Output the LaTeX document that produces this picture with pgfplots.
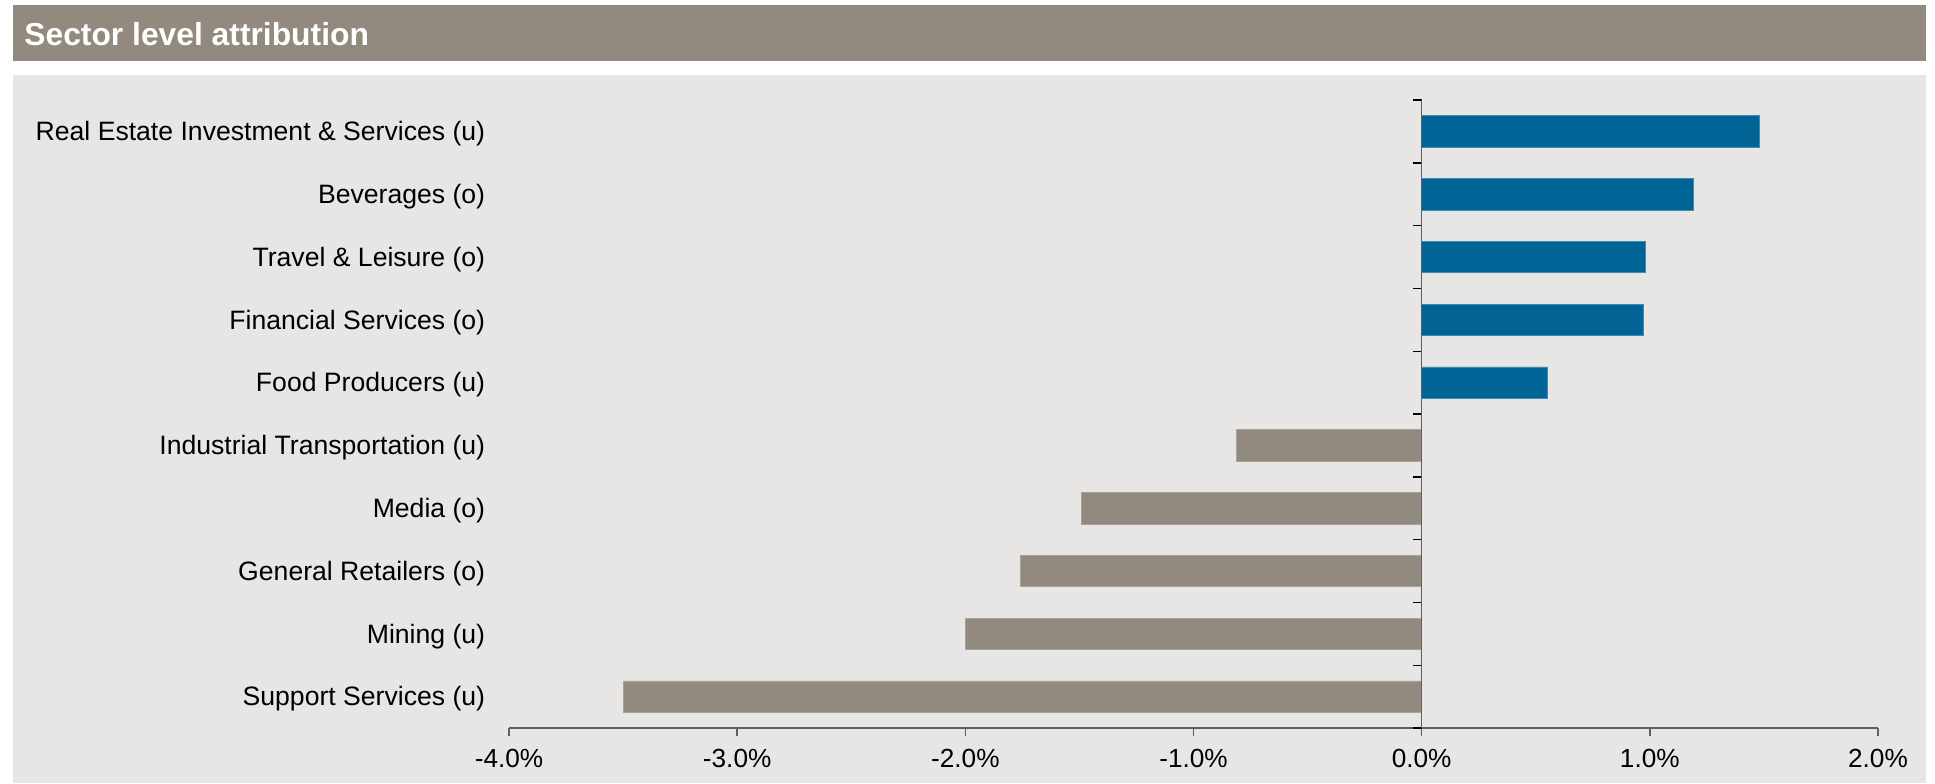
\documentclass[border=0pt]{standalone}
\usepackage{fontspec}
\setmainfont{Liberation Sans}
\usepackage{pgfplots}
\pgfplotsset{compat=1.18}
\definecolor{hdr}{RGB}{146,138,126}
\definecolor{panel}{RGB}{231,230,228}
\definecolor{barblue}{RGB}{0,100,150}
\definecolor{bargray}{RGB}{146,138,126}
\definecolor{axgray}{RGB}{95,95,95}
\begin{document}
\begin{tikzpicture}
\fill[white] (0,0) rectangle (967.5pt,391.5pt);
\fill[hdr] (6.5pt,361pt) rectangle (963pt,389pt);
\fill[panel] (6.5pt,0pt) rectangle (963pt,354pt);
\node[anchor=base west, inner sep=0pt, text=white, font=\fontsize{15.9}{18}\selectfont\bfseries] at (12pt,368.8pt) {Sector level attribution};
\begin{axis}[
  at={(254.5pt,27.5pt)}, anchor=south west, scale only axis,
  width=684.5pt, height=314pt,
  xmin=-4, xmax=2, ymin=-0.5, ymax=9.5,
  axis x line*=bottom, axis y line*=left,
  y axis line style={draw=none},
  x axis line style={color=axgray, line width=0.7pt},
  xtick={-4,-3,-2,-1,0,1,2},
  xticklabels={-4.0\%,-3.0\%,-2.0\%,-1.0\%,0.0\%,1.0\%,2.0\%},
  ytick={0,1,2,3,4,5,6,7,8,9},
  yticklabels={Support Services (u),Mining (u),General Retailers (o),Media (o),Industrial Transportation (u),Food Producers (u),Financial Services (o),Travel \& Leisure (o),Beverages (o),Real Estate Investment \& Services (u)},
  xtick align=outside, ytick align=inside,
  major tick length=4pt,
  xtick style={color=axgray, line width=0.7pt},
  ytick style={draw=none},
  xticklabel style={font=\fontsize{13.1}{15}\selectfont, text=black, yshift=-3.2pt},
  yticklabel style={font=\fontsize{13.3}{15}\selectfont, text=black, anchor=east, xshift=-4.4pt, yshift=-1.2pt},
  xbar, bar width=0.5,
  clip=false,
]
\addplot[bar shift=0pt, fill=bargray, draw=bargray!80!white, line width=0.4pt] coordinates {
  (-3.50,0) (-2.00,1) (-1.76,2) (-1.49,3) (-0.81,4)
};
\addplot[bar shift=0pt, fill=barblue, draw=barblue!75!white, line width=0.4pt] coordinates {
  (0.55,5) (0.97,6) (0.98,7) (1.19,8) (1.48,9)
};
\end{axis}
\begin{axis}[
  at={(710.83pt,27.5pt)}, anchor=south west, scale only axis,
  width=228.17pt, height=314pt,
  xmin=0, xmax=2, ymin=-0.5, ymax=9.5,
  axis x line=none, axis y line*=left,
  y axis line style={color=axgray, line width=0.75pt},
  ytick={-0.5,0.5,1.5,2.5,3.5,4.5,5.5,6.5,7.5,8.5,9.5},
  yticklabels={},
  tick align=outside, major tick length=4.3pt,
  ytick style={color=black, line width=0.7pt},
]
\addplot[draw=none] coordinates {(0,0)};
\end{axis}
\end{tikzpicture}
\end{document}
